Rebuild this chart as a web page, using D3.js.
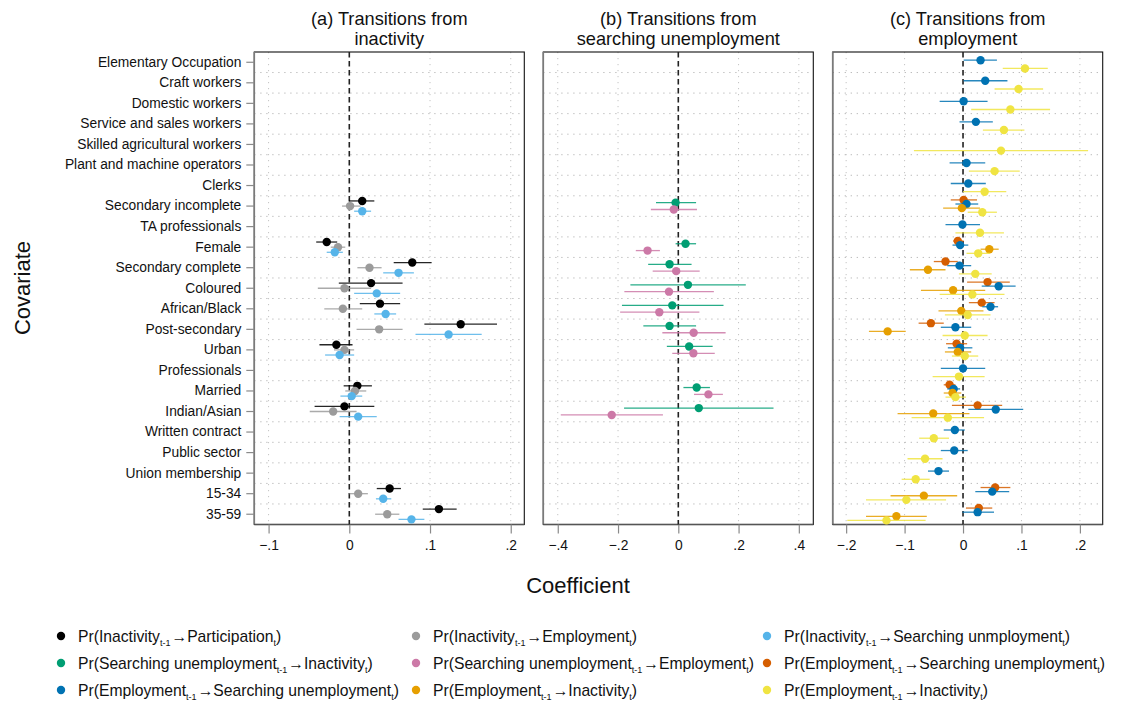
<!DOCTYPE html>
<html>
<head>
<meta charset="utf-8">
<script src="https://cdn.jsdelivr.net/npm/d3@7.9.0/dist/d3.min.js"></script>
<style>
  body { margin: 0; background: #fff; }
  svg { font-family: "Liberation Sans", Arial, Helvetica, sans-serif; }
</style>
</head>
<body>
<div id="chart"></div>
<script>
const covariates = [
  'Elementary Occupation', 'Craft workers', 'Domestic workers', 'Service and sales workers',
  'Skilled agricultural workers', 'Plant and machine operators', 'Clerks', 'Secondary incomplete',
  'TA professionals', 'Female', 'Secondary complete', 'Coloured', 'African/Black',
  'Post-secondary', 'Urban', 'Professionals', 'Married', 'Indian/Asian', 'Written contract',
  'Public sector', 'Union membership', '15-34', '35-59'
];

// [covariate, coefficient, lower CI, upper CI]
const inactToPart = [
  ['Secondary incomplete', 0.016, 0.000, 0.031], ['Female', -0.028, -0.041, -0.015],
  ['Secondary complete', 0.078, 0.055, 0.102], ['Coloured', 0.027, -0.013, 0.066],
  ['African/Black', 0.038, 0.013, 0.063], ['Post-secondary', 0.138, 0.093, 0.183],
  ['Urban', -0.016, -0.037, 0.004], ['Married', 0.010, -0.007, 0.028],
  ['Indian/Asian', -0.006, -0.043, 0.031], ['15-34', 0.050, 0.034, 0.064],
  ['35-59', 0.111, 0.091, 0.133]
];
const inactToEmp = [
  ['Secondary incomplete', 0.001, -0.009, 0.014], ['Female', -0.014, -0.023, -0.005],
  ['Secondary complete', 0.025, 0.010, 0.040], ['Coloured', -0.006, -0.039, 0.027],
  ['African/Black', -0.008, -0.031, 0.016], ['Post-secondary', 0.037, 0.009, 0.066],
  ['Urban', -0.006, -0.019, 0.006], ['Married', 0.007, -0.005, 0.021],
  ['Indian/Asian', -0.020, -0.049, 0.009], ['15-34', 0.011, 0.000, 0.023],
  ['35-59', 0.047, 0.032, 0.062]
];
const inactToSearch = [
  ['Secondary incomplete', 0.016, 0.006, 0.027], ['Female', -0.018, -0.028, -0.008],
  ['Secondary complete', 0.061, 0.042, 0.080], ['Coloured', 0.034, 0.006, 0.063],
  ['African/Black', 0.045, 0.031, 0.058], ['Post-secondary', 0.123, 0.082, 0.164],
  ['Urban', -0.012, -0.030, 0.006], ['Married', 0.003, -0.011, 0.016],
  ['Indian/Asian', 0.011, -0.012, 0.034], ['15-34', 0.042, 0.033, 0.052],
  ['35-59', 0.077, 0.061, 0.093]
];
const searchToInact = [
  ['Secondary incomplete', -0.009, -0.074, 0.059], ['Female', 0.024, -0.009, 0.059],
  ['Secondary complete', -0.029, -0.100, 0.044], ['Coloured', 0.032, -0.159, 0.224],
  ['African/Black', -0.020, -0.187, 0.150], ['Post-secondary', -0.029, -0.116, 0.059],
  ['Urban', 0.036, -0.038, 0.114], ['Married', 0.061, 0.017, 0.105],
  ['Indian/Asian', 0.068, -0.180, 0.316]
];
const searchToEmp = [
  ['Secondary incomplete', -0.015, -0.091, 0.062], ['Female', -0.102, -0.141, -0.061],
  ['Secondary complete', -0.007, -0.085, 0.071], ['Coloured', -0.031, -0.179, 0.118],
  ['African/Black', -0.063, -0.193, 0.070], ['Post-secondary', 0.051, -0.053, 0.157],
  ['Urban', 0.050, -0.020, 0.121], ['Married', 0.100, 0.052, 0.148],
  ['Indian/Asian', -0.221, -0.390, -0.051]
];
const empToSearchA = [
  ['Secondary incomplete', 0.001, -0.021, 0.024], ['Female', -0.009, -0.017, 0.001],
  ['Secondary complete', -0.030, -0.050, -0.009], ['Coloured', 0.042, 0.007, 0.080],
  ['African/Black', 0.032, 0.010, 0.054], ['Post-secondary', -0.055, -0.076, -0.033],
  ['Urban', -0.011, -0.029, 0.007], ['Married', -0.023, -0.033, -0.013],
  ['Indian/Asian', 0.025, -0.019, 0.067], ['15-34', 0.055, 0.030, 0.081],
  ['35-59', 0.027, 0.005, 0.050]
];
const empToSearchB = [
  ['Elementary Occupation', 0.030, 0.001, 0.058], ['Craft workers', 0.038, 0.001, 0.076],
  ['Domestic workers', 0.001, -0.040, 0.042], ['Service and sales workers', 0.022, -0.006, 0.051],
  ['Plant and machine operators', 0.006, -0.023, 0.038], ['Clerks', 0.009, -0.021, 0.039],
  ['Secondary incomplete', 0.006, -0.013, 0.026], ['TA professionals', -0.001, -0.030, 0.029],
  ['Female', -0.005, -0.018, 0.009], ['Secondary complete', -0.006, -0.027, 0.014],
  ['Coloured', 0.061, 0.032, 0.090], ['African/Black', 0.047, 0.033, 0.060],
  ['Post-secondary', -0.013, -0.038, 0.014], ['Urban', -0.005, -0.026, 0.016],
  ['Professionals', 0.000, -0.038, 0.038], ['Married', -0.016, -0.027, -0.005],
  ['Indian/Asian', 0.056, 0.009, 0.103], ['Written contract', -0.014, -0.033, 0.003],
  ['Public sector', -0.015, -0.038, 0.008], ['Union membership', -0.042, -0.060, -0.024],
  ['15-34', 0.050, 0.021, 0.079], ['35-59', 0.025, -0.001, 0.053]
];
const empToInactA = [
  ['Secondary incomplete', -0.002, -0.034, 0.029], ['Female', 0.045, 0.030, 0.061],
  ['Secondary complete', -0.060, -0.091, -0.030], ['Coloured', -0.017, -0.072, 0.038],
  ['African/Black', -0.003, -0.042, 0.035], ['Post-secondary', -0.129, -0.161, -0.098],
  ['Urban', -0.009, -0.031, 0.014], ['Married', -0.018, -0.033, -0.003],
  ['Indian/Asian', -0.051, -0.112, 0.011], ['15-34', -0.067, -0.124, -0.010],
  ['35-59', -0.114, -0.166, -0.062]
];
const empToInactB = [
  ['Elementary Occupation', 0.106, 0.068, 0.145], ['Craft workers', 0.095, 0.054, 0.137],
  ['Domestic workers', 0.081, 0.014, 0.149], ['Service and sales workers', 0.070, 0.034, 0.105],
  ['Skilled agricultural workers', 0.065, -0.084, 0.214], ['Plant and machine operators', 0.054, 0.010, 0.097],
  ['Clerks', 0.037, 0.000, 0.074], ['Secondary incomplete', 0.033, 0.008, 0.058],
  ['TA professionals', 0.029, -0.013, 0.070], ['Female', 0.026, 0.006, 0.046],
  ['Secondary complete', 0.021, -0.007, 0.049], ['Coloured', 0.016, -0.040, 0.071],
  ['African/Black', 0.008, -0.031, 0.047], ['Post-secondary', 0.003, -0.035, 0.042],
  ['Urban', 0.003, -0.019, 0.026], ['Professionals', -0.007, -0.052, 0.037],
  ['Married', -0.013, -0.030, 0.005], ['Indian/Asian', -0.026, -0.088, 0.036],
  ['Written contract', -0.050, -0.075, -0.024], ['Public sector', -0.065, -0.095, -0.035],
  ['Union membership', -0.081, -0.105, -0.057], ['15-34', -0.097, -0.166, -0.029],
  ['35-59', -0.131, -0.198, -0.064]
];

const legendLabels = [
  ['Inactivity', 'Participation'], ['Inactivity', 'Employment'], ['Inactivity', 'Searching unmployment'],
  ['Searching unemployment', 'Inactivity'], ['Searching unemployment', 'Employment'], ['Employment', 'Searching unemployment'],
  ['Employment', 'Searching unemployment'], ['Employment', 'Inactivity'], ['Employment', 'Inactivity']
];
const colors = ['#000000', '#9b9b9b', '#56b4e9', '#009e73', '#cc79a7', '#d55e00', '#0072b2', '#e69f00', '#f0e442'];

const panels = [
  { title: ['(a) Transitions from', 'inactivity'], domain: [-0.1177, 0.2168], ticks: [-0.1, 0, 0.1, 0.2],
    series: [[inactToPart, 0], [inactToEmp, 1], [inactToSearch, 2]] },
  { title: ['(b) Transitions from', 'searching unemployment'], domain: [-0.448, 0.448], ticks: [-0.4, -0.2, 0, 0.2, 0.4],
    series: [[searchToInact, 3], [searchToEmp, 4]] },
  { title: ['(c) Transitions from', 'employment'], domain: [-0.223, 0.239], ticks: [-0.2, -0.1, 0, 0.1, 0.2],
    series: [[empToSearchA, 5], [empToSearchB, 6], [empToInactA, 7], [empToInactB, 8]] }
];

const width = 1124, height = 702;
const plotTop = 52, plotBottom = 524.5, panelW = 270;
const panelLeft = [254.3, 543.3, 832.7];

const svg = d3.select('#chart').append('svg')
  .attr('width', width).attr('height', height);

const yScale = d3.scaleBand().domain(covariates).range([plotTop, plotBottom]);
const step = yScale.step();
const yc = c => yScale(c) + step / 2;

const fmt = v => v === 0 ? '0' : d3.format('.1f')(v).replace('0.', '.');

panels.forEach((p, pi) => {
  const x0 = panelLeft[pi];
  const x = d3.scaleLinear().domain(p.domain).range([x0, x0 + panelW]);
  const g = svg.append('g');

  // vertical dotted gridlines
  g.selectAll('.vgrid').data(p.ticks.filter(t => t !== 0)).join('line')
    .attr('x1', d => x(d)).attr('x2', d => x(d)).attr('y1', plotTop).attr('y2', plotBottom)
    .attr('stroke', '#c4c4c4').attr('stroke-width', 1).attr('stroke-dasharray', '1.2,4.8');

  // horizontal dotted gridlines between categories
  g.selectAll('.hgrid').data(covariates.slice(1)).join('line')
    .attr('x1', x0).attr('x2', x0 + panelW).attr('y1', d => yScale(d)).attr('y2', d => yScale(d))
    .attr('stroke', '#b4b4b4').attr('stroke-width', 1).attr('stroke-dasharray', '1.2,4.8');

  // frame
  g.append('rect').attr('x', x0).attr('y', plotTop).attr('width', panelW).attr('height', plotBottom - plotTop)
    .attr('fill', 'none').attr('stroke', '#111').attr('stroke-width', 1.1);
  g.append('line').attr('x1', x0).attr('x2', x0).attr('y1', plotTop).attr('y2', plotBottom)
    .attr('stroke', '#7a7a7a').attr('stroke-width', 1.6);
  g.append('line').attr('x1', x0).attr('x2', x0 + panelW).attr('y1', plotBottom).attr('y2', plotBottom)
    .attr('stroke', '#555').attr('stroke-width', 1.3);

  // x axis
  const xAxis = g.append('g').attr('transform', `translate(0,${plotBottom})`)
    .call(d3.axisBottom(x).tickValues(p.ticks).tickSize(9).tickPadding(7).tickFormat(fmt));
  xAxis.select('.domain').remove();
  xAxis.selectAll('line').attr('stroke', '#8a8a8a').attr('stroke-width', 1.2);
  xAxis.selectAll('text').attr('font-size', 13.8).attr('fill', '#111')
    .attr('font-family', '"Liberation Sans", Arial, sans-serif');

  // zero line
  g.append('line').attr('x1', x(0)).attr('x2', x(0)).attr('y1', plotTop).attr('y2', plotBottom)
    .attr('stroke', '#222').attr('stroke-width', 1.6).attr('stroke-dasharray', '5.5,3.5');

  // title
  p.title.forEach((t, i) => {
    svg.append('text').attr('x', x0 + panelW / 2).attr('y', 25 + i * 19.5)
      .attr('text-anchor', 'middle').attr('font-size', 18.2).attr('fill', '#111').text(t);
  });

  // series
  const n = p.series.length;
  p.series.forEach(([data, ci], si) => {
    const off = (si - (n - 1) / 2) * step / (n + 1);
    const sg = g.append('g');
    sg.selectAll('line').data(data).join('line')
      .attr('x1', d => x(d[2])).attr('x2', d => x(d[3]))
      .attr('y1', d => yc(d[0]) + off).attr('y2', d => yc(d[0]) + off)
      .attr('stroke', colors[ci]).attr('stroke-width', 1.3).attr('stroke-opacity', 0.85);
    sg.selectAll('circle').data(data).join('circle')
      .attr('cx', d => x(d[1])).attr('cy', d => yc(d[0]) + off).attr('r', 4.2)
      .attr('fill', colors[ci]);
  });

  if (pi === 0) {
    const yAxis = g.append('g').attr('transform', `translate(${x0},0)`)
      .call(d3.axisLeft(yScale).tickSize(8).tickPadding(5));
    yAxis.select('.domain').remove();
    yAxis.selectAll('line').attr('stroke', '#8a8a8a').attr('stroke-width', 1.2);
    yAxis.selectAll('text').attr('font-size', 13.8).attr('fill', '#111')
      .attr('font-family', '"Liberation Sans", Arial, sans-serif');
  }
});

// axis titles
svg.append('text').attr('x', 578).attr('y', 593).attr('text-anchor', 'middle')
  .attr('font-size', 22).attr('fill', '#111').text('Coefficient');
svg.append('text').attr('transform', 'translate(30,288) rotate(-90)').attr('text-anchor', 'middle')
  .attr('font-size', 22).attr('fill', '#111').text('Covariate');

// legend
const legX = [61, 416, 767];
const legY = [636, 663, 690];
legendLabels.forEach(([from, to], i) => {
  const cx = legX[i % 3], cy = legY[Math.floor(i / 3)];
  svg.append('circle').attr('cx', cx).attr('cy', cy).attr('r', 4.2).attr('fill', colors[i]);
  const t = svg.append('text').attr('x', cx + 17).attr('y', cy + 5.5)
    .attr('font-size', 15.7).attr('fill', '#111');
  t.append('tspan').text('Pr(' + from);
  t.append('tspan').attr('font-size', 9).attr('dy', 4).text('t-1');
  t.append('tspan').attr('dy', -4).attr('dx', 1).text('\u2192' + to);
  t.append('tspan').attr('font-size', 9).attr('dy', 4).text('t');
  t.append('tspan').attr('dy', -4).text(')');
});
</script>
</body>
</html>
